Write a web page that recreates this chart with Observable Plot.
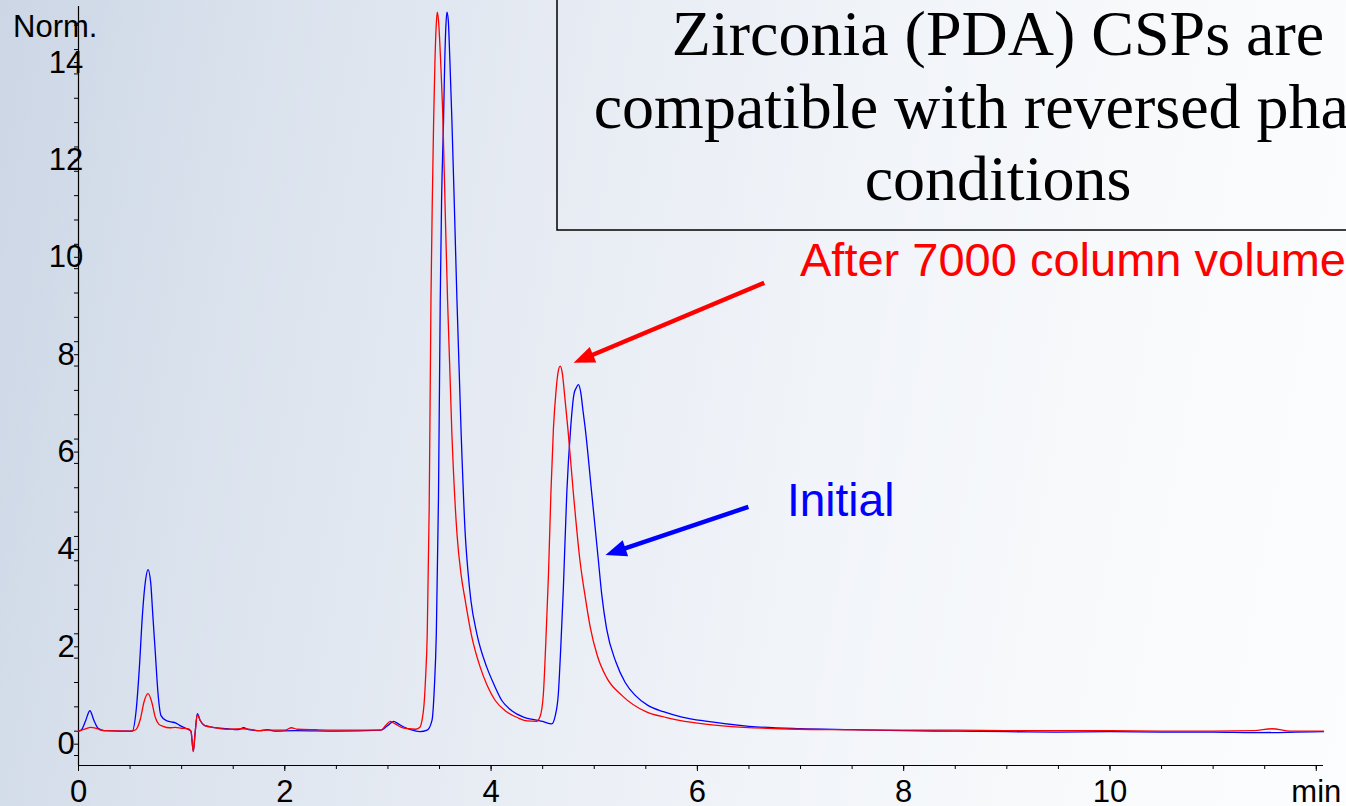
<!DOCTYPE html>
<html>
<head>
<meta charset="utf-8">
<script src="https://cdn.jsdelivr.net/npm/d3@7"></script>
<script src="https://cdn.jsdelivr.net/npm/@observablehq/plot@0.6"></script>
<style>
  html, body { margin: 0; padding: 0; width: 1346px; height: 806px; overflow: hidden; }
  body {
    position: relative;
    background: linear-gradient(100deg, #ccd6e5 0%, #dae2ed 18%, #e6ebf3 38%, #f0f3f8 58%, #f7f9fb 78%, #fcfdfe 100%);
    font-family: "Liberation Sans", Arial, sans-serif;
  }
  #chart { position: absolute; left: 0; top: 0; }
</style>
</head>
<body>
<div id="chart"></div>
<script>
// Retention time (min) and normalised detector signal, initial column
const initialTime = [
  0.00, 0.03, 0.07, 0.11, 0.15, 0.19, 0.25, 0.40, 0.52, 0.56, 0.59, 0.62, 0.65, 0.674, 0.70, 0.72,
  0.745, 0.77, 0.80, 0.85, 0.90, 0.94, 0.98, 1.05, 1.09, 1.113, 1.13, 1.152, 1.18, 1.22, 1.30, 1.44,
  1.55, 1.60, 1.65, 1.76, 1.83, 1.90, 2.10, 2.50, 2.93, 2.99, 3.055, 3.10, 3.16, 3.22, 3.31, 3.38,
  3.427, 3.45, 3.469, 3.49, 3.507, 3.52, 3.539, 3.55, 3.562, 3.572, 3.585, 3.60, 3.62, 3.645, 3.669, 3.71,
  3.749, 3.775, 3.804, 3.862, 3.959, 4.03, 4.104, 4.20, 4.314, 4.427, 4.50, 4.588, 4.62, 4.652, 4.675, 4.70,
  4.734, 4.772, 4.804, 4.825, 4.846, 4.87, 4.89, 4.911, 4.976, 5.04, 5.072, 5.12, 5.21, 5.30, 5.395, 5.52,
  5.67, 5.85, 6.10, 6.50, 7.00, 7.50, 8.00, 8.50, 9.00, 9.50, 10.00, 10.50, 11.00, 11.40, 11.80, 12.07
];
const initialSignal = [
  0.00, 0.03, 0.22, 0.42, 0.22, 0.06, 0.01, 0.00, 0.00, 0.45, 1.30, 2.40, 3.10, 3.32, 3.05, 2.40,
  1.60, 0.80, 0.32, 0.22, 0.19, 0.17, 0.12, 0.05, 0.00, -0.41, -0.05, 0.36, 0.22, 0.12, 0.08, 0.05,
  0.03, 0.07, 0.03, 0.01, 0.03, 0.00, 0.01, 0.00, 0.02, 0.10, 0.20, 0.15, 0.08, 0.03, -0.01, 0.02,
  0.22, 0.90, 2.00, 4.80, 8.85, 10.90, 12.55, 13.70, 14.50, 14.77, 14.60, 13.80, 12.55, 10.70, 8.85, 6.10,
  4.06, 3.30, 2.69, 2.00, 1.31, 0.95, 0.63, 0.42, 0.29, 0.23, 0.20, 0.15, 0.30, 0.77, 1.70, 2.90,
  4.90, 6.25, 6.93, 7.05, 7.12, 6.95, 6.60, 6.25, 4.88, 3.51, 2.82, 2.10, 1.42, 1.00, 0.74, 0.53,
  0.40, 0.29, 0.20, 0.10, 0.05, 0.03, 0.01, 0.00, -0.01, -0.02, -0.01, -0.02, -0.02, -0.03, -0.02, -0.01
];

// Same separation after 7000 column volumes
const agedTime = [
  0.00, 0.06, 0.12, 0.18, 0.24, 0.50, 0.555, 0.60, 0.635, 0.674, 0.71, 0.745, 0.78, 0.82, 0.88, 0.94,
  1.00, 1.06, 1.09, 1.113, 1.13, 1.152, 1.18, 1.22, 1.30, 1.44, 1.60, 1.76, 1.83, 2.00, 2.065, 2.12,
  2.30, 2.60, 2.93, 2.98, 3.023, 3.07, 3.13, 3.20, 3.27, 3.31, 3.33, 3.35, 3.365, 3.381, 3.40, 3.417,
  3.43, 3.443, 3.455, 3.468, 3.478, 3.49, 3.51, 3.533, 3.555, 3.578, 3.62, 3.669, 3.71, 3.749, 3.807, 3.895,
  3.96, 4.04, 4.15, 4.265, 4.35, 4.44, 4.475, 4.507, 4.53, 4.556, 4.58, 4.604, 4.63, 4.65, 4.67, 4.69,
  4.715, 4.745, 4.798, 4.863, 4.911, 4.96, 5.03, 5.12, 5.27, 5.50, 5.70, 5.95, 6.30, 6.80, 7.30, 8.00,
  8.50, 9.00, 9.50, 10.00, 10.50, 11.00, 11.40, 11.57, 11.75, 12.07
];
const agedSignal = [
  0.00, 0.04, 0.08, 0.05, 0.01, 0.00, 0.03, 0.25, 0.60, 0.77, 0.60, 0.28, 0.14, 0.10, 0.07, 0.08,
  0.06, 0.05, 0.00, -0.42, -0.05, 0.34, 0.22, 0.12, 0.08, 0.04, 0.05, 0.01, 0.02, 0.02, 0.07, 0.04,
  0.03, 0.02, 0.02, 0.12, 0.20, 0.15, 0.08, 0.05, 0.04, 0.08, 0.22, 0.55, 1.10, 2.00, 4.60, 8.85,
  10.90, 12.55, 13.70, 14.50, 14.77, 14.60, 13.80, 12.55, 10.70, 8.85, 6.10, 4.06, 3.20, 2.69, 2.00, 1.31,
  0.95, 0.63, 0.40, 0.27, 0.21, 0.20, 0.30, 0.77, 1.80, 3.20, 4.90, 6.20, 7.00, 7.38, 7.50, 7.36,
  6.85, 6.20, 4.88, 3.48, 2.78, 2.15, 1.55, 1.10, 0.73, 0.40, 0.28, 0.18, 0.10, 0.05, 0.03, 0.02,
  0.02, 0.01, 0.01, 0.01, 0.00, 0.00, 0.01, 0.05, 0.00, 0.00
];

// Axis extents and ticks
const xDomain = [0, 12.07];
const yDomain = [-0.705, 14.885];
const xMajorTicks = [0, 2, 4, 6, 8, 10, 12];
const xMinorTicks = d3.range(0, 12.01, 0.5);
const yMajorTicks = [0, 2, 4, 6, 8, 10, 12, 14];
const yMinorTicks = d3.range(-0.5, 14.6, 0.5);

// Annotation arrows in data units: [tailTime, tailSignal, tipTime, tipSignal]
const agedArrow = [6.653, 9.199, 4.805, 7.555];
const initialArrow = [6.499, 4.596, 5.114, 3.610];

const toRows = (times, values) => times.map((t, i) => ({t, v: values[i]}));
const initialRows = toRows(initialTime, initialSignal);
const agedRows = toRows(agedTime, agedSignal);

const font = "'Liberation Sans', Arial, sans-serif";

const chart = Plot.plot({
  width: 1346,
  height: 806,
  marginLeft: 78,
  marginRight: 23,
  marginTop: 6,
  marginBottom: 41,
  x: {domain: xDomain, label: null},
  y: {domain: yDomain, label: null},
  style: {background: "transparent", fontFamily: font, color: "#000", overflow: "hidden"},
  marks: [
    Plot.axisX({ticks: xMinorTicks, tickSize: 4, tickFormat: () => "", stroke: "#000"}),
    Plot.axisX({ticks: xMajorTicks, tickSize: 6, tickPadding: 8, fontSize: 31, stroke: "#000",
      tickFormat: d => d === 12 ? "min" : String(d)}),
    Plot.axisY({ticks: yMinorTicks, tickSize: 4, tickFormat: () => "", stroke: "#000"}),
    Plot.axisY({ticks: yMajorTicks, tickSize: 4, tickPadding: 8.5, textAnchor: "middle", dy: 13,
      fontSize: 31, stroke: "#000"}),
    Plot.ruleX([xDomain[0]], {stroke: "#000", strokeWidth: 1.2}),
    Plot.ruleY([yDomain[0]], {stroke: "#000", strokeWidth: 1.2}),
    Plot.line(initialRows, {x: "t", y: "v", stroke: "#0000ff", strokeWidth: 1.3, curve: "monotone-x"}),
    Plot.line(agedRows, {x: "t", y: "v", stroke: "#ff0000", strokeWidth: 1.3, curve: "monotone-x"})
  ]
});

document.getElementById("chart").append(chart);

const sx = chart.scale("x");
const sy = chart.scale("y");
const svg = d3.select(chart);
const notes = svg.append("g").attr("text-anchor", "start");

// Y axis unit
notes.append("text")
  .attr("x", 13).attr("y", 37)
  .attr("text-anchor", "start")
  .attr("font-family", font).attr("font-size", 31)
  .attr("fill", "#000")
  .text("Norm.");

// Title box
notes.append("rect")
  .attr("x", 557).attr("y", -20).attr("width", 882).attr("height", 250)
  .attr("fill", "none").attr("stroke", "#000").attr("stroke-width", 1.5);

const titleLines = ["Zirconia (PDA) CSPs are", "compatible with reversed phase", "conditions"];
titleLines.forEach((line, i) => {
  notes.append("text")
    .attr("x", 998).attr("y", 55 + i * 72.5)
    .attr("text-anchor", "middle")
    .attr("font-family", "'Liberation Serif', 'Times New Roman', serif")
    .attr("font-size", 64)
    .attr("fill", "#000")
    .text(line);
});

// Series labels
notes.append("text")
  .attr("x", 800).attr("y", 276)
  .attr("text-anchor", "start")
  .attr("font-family", font).attr("font-size", 47)
  .attr("fill", "#ff0000")
  .text("After 7000 column volumes");

notes.append("text")
  .attr("x", 787).attr("y", 516)
  .attr("text-anchor", "start")
  .attr("font-family", font).attr("font-size", 46)
  .attr("fill", "#0000ff")
  .text("Initial");

// Arrows with filled heads
function drawArrow([t0, v0, t1, v1], color) {
  const x0 = sx.apply(t0), y0 = sy.apply(v0), x1 = sx.apply(t1), y1 = sy.apply(v1);
  const dx = x1 - x0, dy = y1 - y0, len = Math.hypot(dx, dy);
  const ux = dx / len, uy = dy / len;
  const headLen = 21, headHalf = 8.5;
  const bx = x1 - ux * headLen, by = y1 - uy * headLen;
  notes.append("line")
    .attr("x1", x0).attr("y1", y0).attr("x2", bx + ux * 2).attr("y2", by + uy * 2)
    .attr("stroke", color).attr("stroke-width", 4.5);
  notes.append("polygon")
    .attr("points", [
      [x1, y1],
      [bx - uy * headHalf, by + ux * headHalf],
      [bx + uy * headHalf, by - ux * headHalf]
    ].map(p => p.join(",")).join(" "))
    .attr("fill", color);
}
drawArrow(agedArrow, "#ff0000");
drawArrow(initialArrow, "#0000ff");
</script>
</body>
</html>
